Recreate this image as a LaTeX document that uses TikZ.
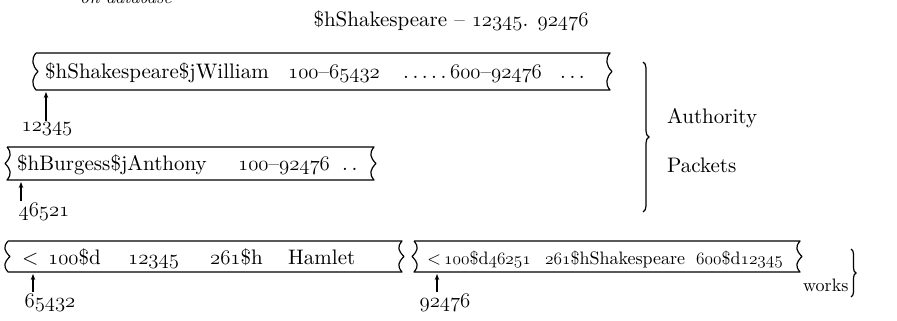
\documentclass[tikz,border=0pt]{standalone}
\usepackage{fontspec}
\setmainfont{lmroman10-regular.otf}[ItalicFont=lmroman10-italic.otf]
\usetikzlibrary{arrows.meta,decorations.pathreplacing}
% old-style figures taken from the math italic font
\newcommand\os[1]{{\usefont{OML}{cmm}{m}{it}#1}}
% ribbon-shaped record: left x, right x, top y, bottom y, bulge of left end, bulge of right end
\newcommand\ribbon[6]{%
  \draw[ribbonline] (#1,#3) -- (#2,#3)
    .. controls ({#2-#6*5},{#3+6}) and ({#2-#6*4},{(#3+#4)/2-6}) .. ({#2+#6*2},{(#3+#4)/2})
    .. controls ({#2-#6*4},{(#3+#4)/2+6}) and ({#2-#6*5},{#4-6}) .. (#2,#4)
    -- (#1,#4)
    .. controls ({#1-#5*5},{#4-6}) and ({#1-#5*4},{(#3+#4)/2+6}) .. ({#1+#5*2},{(#3+#4)/2})
    .. controls ({#1-#5*4},{(#3+#4)/2-6}) and ({#1-#5*5},{#3+6}) .. (#1,#3);}
\tikzset{
  ribbonline/.style={line width=1.2pt, line join=round},
  txt/.style={anchor=base west, inner sep=0pt, font=\fontsize{21}{24}\selectfont},
  small/.style={font=\fontsize{18}{21}\selectfont},
  num/.style={anchor=base, inner sep=1pt, font=\fontsize{21}{24}\selectfont},
  uparrow/.style={-{Stealth[length=6pt,width=4.5pt]}, line width=1.1pt},
  bigbrace/.style={decorate, decoration={brace, amplitude=6pt}, line width=1.2pt},
}
\begin{document}
\begin{tikzpicture}[x=1pt,y=-1pt]
  \useasboundingbox (0,0) rectangle (897,321);

  % caption line running off the top edge
  \node[txt, font=\fontsize{18}{21}\selectfont\itshape] (db) at (80,4) {on database};
  \node[num] (head) at (451,27) {\$hShakespeare -- \os{12345}. \os{92476}};

  % authority packets
  \ribbon{36}{610}{53}{90}{1}{1}
  \node[txt] (a1) at (45,78) {\$hShakespeare\$jWilliam};
  \node[txt] (a1b) at (288,78) {\os{100}--\os{65432}};
  \node[txt] (a1c) at (403,78) {.\,.\,.\,.\,.};
  \node[txt] (a1d) at (450,78) {\os{600}--\os{92476}};
  \node[txt] (a1e) at (560,78) {.\,.\,.};
  \coordinate (p1) at (46,92);
  \node[num] (k1) at (47,131) {\os{12345}};
  \draw[uparrow] (k1.north -| p1) -- (p1);

  \ribbon{7}{374}{147}{180}{-1}{1}
  \node[txt] (a2) at (17,170) {\$hBurgess\$jAnthony};
  \node[txt] (a2b) at (238,170) {\os{100}--\os{92476}};
  \node[txt] (a2c) at (342,170) {.\,.};
  \coordinate (p2) at (21,182);
  \node[num] (k2) at (44,216) {\os{46521}};
  \draw[uparrow] (k2.north -| p2) -- (p2);

  \draw[bigbrace] (643,62) -- (643,212);
  \node[txt] (auth) at (667,123) {Authority};
  \node[txt] (pack) at (667,172) {Packets};

  % works records
  \ribbon{8}{402}{241}{272}{1}{1}
  \node[txt] (w1) at (22,264) {<};
  \node[txt] (w1b) at (48,264) {\os{100}\$d};
  \node[txt] (w1c) at (128,264) {\os{12345}};
  \node[txt] (w1d) at (210,264) {\os{261}\$h};
  \node[txt] (w1e) at (288,264) {Hamlet};
  \coordinate (p3) at (33,274);
  \node[num] (k3) at (50,307) {\os{65432}};
  \draw[uparrow] (k3.north -| p3) -- (p3);

  \ribbon{414}{800}{241}{272}{-1}{1}
  \node[txt, small] (w2) at (427,264) {<};
  \node[txt, small] (w2b) at (444,264) {\os{100}\$d\os{46251}};
  \node[txt, small] (w2c) at (545,264) {\os{261}\$hShakespeare};
  \node[txt, small] (w2d) at (696,264) {\os{600}\$d\os{12345}};
  \coordinate (p4) at (437,274);
  \node[num] (k4) at (445,307) {\os{92476}};
  \draw[uparrow] (k4.north -| p4) -- (p4);

  \node[txt, small] (works) at (803,291) {works};
  \draw[bigbrace, decoration={brace, amplitude=5pt}] (851,249) -- (851,297);
\end{tikzpicture}
\end{document}
